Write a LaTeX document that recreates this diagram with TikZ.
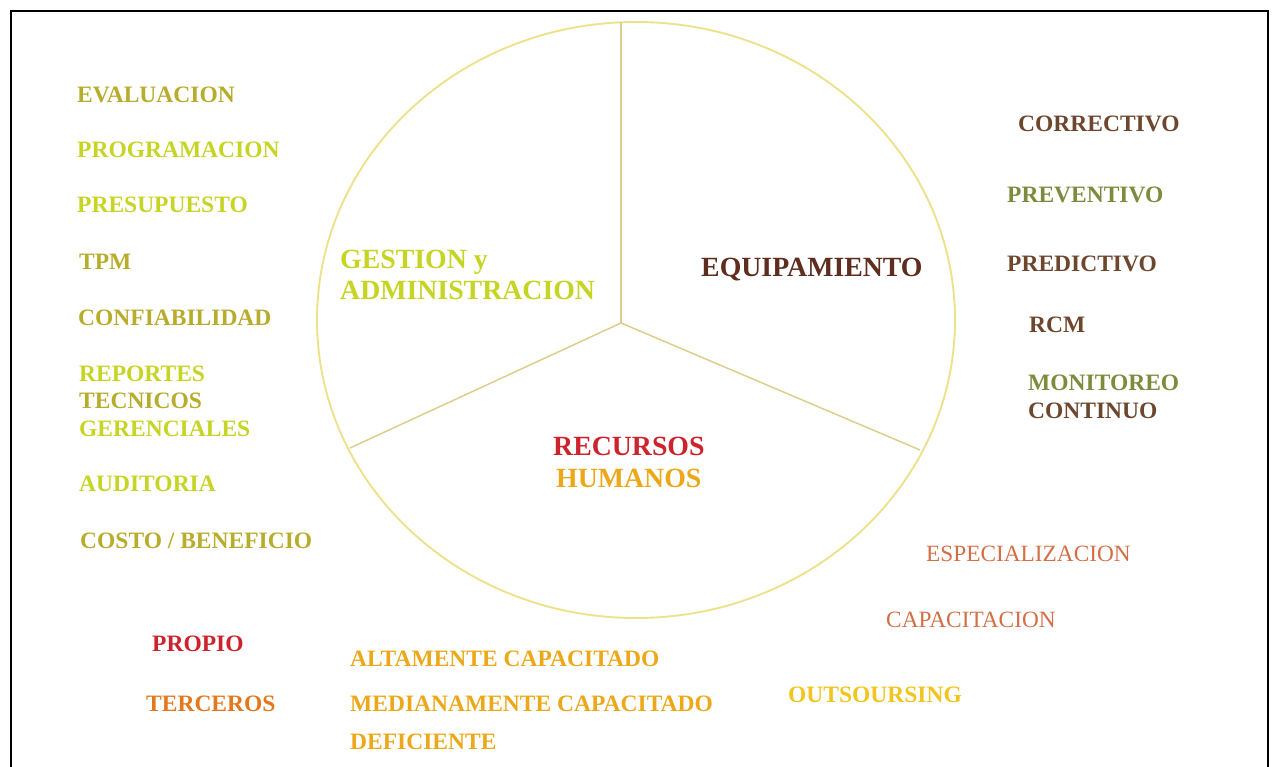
\documentclass[tikz,border=0pt]{standalone}
\usepackage{fontspec}
\setmainfont{Liberation Serif}
\definecolor{olivetx}{RGB}{184,172,44}
\definecolor{limetx}{RGB}{198,212,36}
\definecolor{browntx}{RGB}{110,70,45}
\definecolor{dbrowntx}{RGB}{95,45,30}
\definecolor{greentx}{RGB}{125,140,60}
\definecolor{pie}{RGB}{236,226,140}
\definecolor{spoke}{RGB}{222,206,140}
\definecolor{redtx}{RGB}{205,35,45}
\definecolor{golden}{RGB}{236,168,24}
\definecolor{orangetx}{RGB}{228,120,30}
\definecolor{rusttx}{RGB}{212,110,70}
\definecolor{yellowtx}{RGB}{242,196,30}
\begin{document}
\begin{tikzpicture}[x=1pt,y=-1pt,
  lbl/.style={anchor=base west,inner sep=0pt,font=\fontsize{23.5}{26}\selectfont\bfseries},
  big/.style={anchor=base west,inner sep=0pt,font=\fontsize{27.8}{30}\selectfont\bfseries},
  thin/.style={anchor=base west,inner sep=0pt,font=\fontsize{23.3}{26}\selectfont},
  frame/.style={draw=black,line width=2.5pt},
  rim/.style={draw=pie,line width=1.9pt},
  spk/.style={draw=spoke,line width=1.5pt}]
\useasboundingbox (0,0) rectangle (1277,767);
% frame
\coordinate (fbl) at (11,767);
\coordinate (ftl) at (11,11);
\coordinate (ftr) at (1268,11);
\coordinate (fbr) at (1268,767);
\draw[frame] (fbl) -- (ftl) -- (ftr) -- (fbr);
% pie
\coordinate (ctr) at (636,320);
\draw[rim] (ctr) ellipse [x radius=319, y radius=298];
\coordinate (hub) at (621,323);
\coordinate (sTop) at (621,22);
\coordinate (sLeft) at (350,448);
\coordinate (sRight) at (920,450);
\draw[spk] (hub) -- (sTop);
\draw[spk] (hub) -- (sLeft);
\draw[spk] (hub) -- (sRight);
% center labels
\node[big,text=limetx] (gest) at (340,269) {GESTION y};
\node[big,text=limetx] (adm) at (340,300) {ADMINISTRACION};
\node[big,text=dbrowntx] (equip) at (701,277) {EQUIPAMIENTO};
\node[big,text=redtx] (rec) at (553,455) {RECURSOS};
\node[big,text=golden] (hum) at (556,487) {HUMANOS};
% left column
\node[lbl,text=olivetx] (eval) at (77,103) {EVALUACION};
\node[lbl,text=limetx] (prog) at (77,158) {PROGRAMACION};
\node[lbl,text=limetx] (pres) at (77,213) {PRESUPUESTO};
\node[lbl,text=olivetx] (tpm) at (79,270) {TPM};
\node[lbl,text=olivetx] (conf) at (78,326) {CONFIABILIDAD};
\node[lbl,text=limetx] (rep) at (79,381) {REPORTES};
\node[lbl,text=olivetx] (tec) at (79,408) {TECNICOS};
\node[lbl,text=limetx] (ger) at (79,436) {GERENCIALES};
\node[lbl,text=limetx] (aud) at (79,491) {AUDITORIA};
\node[lbl,text=olivetx] (cost) at (80,548) {COSTO / BENEFICIO};
% right column
\node[lbl,text=browntx] (corr) at (1018,132) {CORRECTIVO};
\node[lbl,text=greentx] (prev) at (1007,203) {PREVENTIVO};
\node[lbl,text=browntx] (pred) at (1007,272) {PREDICTIVO};
\node[lbl,text=browntx] (rcm) at (1029,332) {RCM};
\node[lbl,text=greentx] (mon) at (1028,390) {MONITOREO};
\node[lbl,text=browntx] (cont) at (1028,418) {CONTINUO};
% bottom
\node[lbl,text=redtx] (prop) at (152,651) {PROPIO};
\node[lbl,text=orangetx] (terc) at (146,711) {TERCEROS};
\node[lbl,text=golden] (alta) at (350,666) {ALTAMENTE CAPACITADO};
\node[lbl,text=golden] (medi) at (350,711) {MEDIANAMENTE CAPACITADO};
\node[lbl,text=golden] (defi) at (350,749) {DEFICIENTE};
\node[thin,text=rusttx] (espe) at (926,561) {ESPECIALIZACION};
\node[thin,text=rusttx] (capa) at (886,627) {CAPACITACION};
\node[lbl,text=yellowtx] (outs) at (788,702) {OUTSOURSING};
\end{tikzpicture}
\end{document}
